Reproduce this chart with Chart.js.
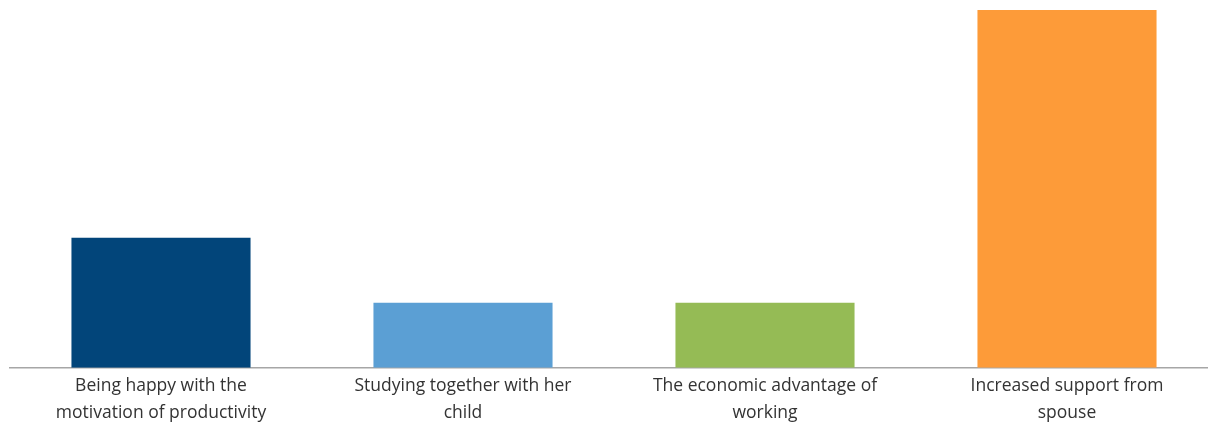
<!DOCTYPE html>
<html>
<head>
<meta charset="utf-8">
<script src="https://cdn.jsdelivr.net/npm/chart.js@4/dist/chart.umd.min.js"></script>
<style>
  html, body { margin: 0; padding: 0; background: #fff; overflow: hidden; }
  #wrap { width: 1218px; height: 424px; }
</style>
</head>
<body>
<div id="wrap"><canvas id="barChart"></canvas></div>
<script>
// Categories (two-line labels as drawn under the axis)
const categories = [
  ['Being happy with the', 'motivation of productivity'],
  ['Studying together with her', 'child'],
  ['The economic advantage of', 'working'],
  ['Increased support from', 'spouse']
];
// Values
const values = [4, 2, 2, 11];
const barColors = ['#02457a', '#5b9fd4', '#95bb55', '#fd9b39'];

const ctx = document.getElementById('barChart').getContext('2d');
new Chart(ctx, {
  type: 'bar',
  data: {
    labels: categories,
    datasets: [{
      data: values,
      backgroundColor: barColors,
      borderWidth: 0,
      barPercentage: 0.593,
      categoryPercentage: 1
    }]
  },
  options: {
    responsive: true,
    maintainAspectRatio: false,
    animation: false,
    layout: { padding: { left: 10, right: 0, top: 10, bottom: 0 } },
    plugins: {
      legend: { display: false },
      tooltip: { enabled: false }
    },
    scales: {
      y: { display: false, min: 0, max: 11 },
      x: {
        grid: { display: false },
        border: { display: true, color: '#a6a6a6', width: 1.5 },
        ticks: {
          color: '#333333',
          font: { family: 'Open Sans', size: 17.5, lineHeight: 1.55 },
          padding: -3,
          maxRotation: 0,
          autoSkip: false
        }
      }
    }
  }
});
</script>
</body>
</html>
